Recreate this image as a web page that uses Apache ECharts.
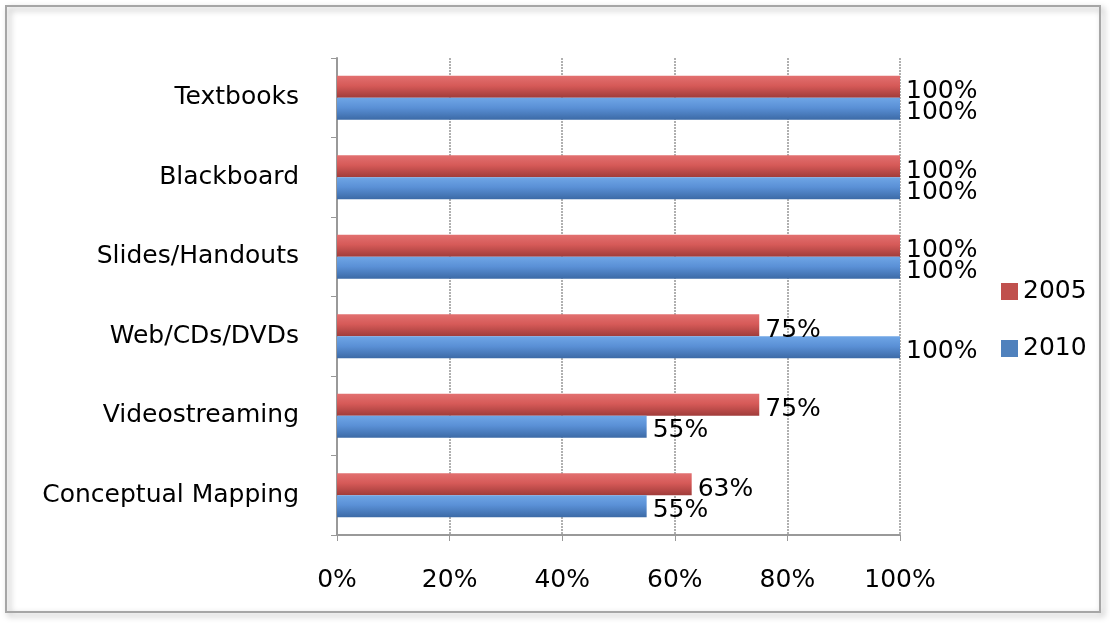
<!DOCTYPE html>
<html><head><meta charset="utf-8">
<script src="https://cdn.jsdelivr.net/npm/echarts@6/dist/echarts.min.js"></script>
<style>html,body{margin:0;padding:0;background:#fff;}#c{width:1110px;height:624px;}</style>
</head><body><div id="c"></div>
<script>
const categories = ['Textbooks','Blackboard','Slides/Handouts','Web/CDs/DVDs','Videostreaming','Conceptual Mapping'];
const values2005 = [100,100,100,75,75,63];
const values2010 = [100,100,100,100,55,55];
const seriesNames = ['2005','2010'];
const xTicks = {min:0, max:100, interval:20};

const font = 'DejaVu Sans';
const fs = 25;
function grad(light, mid, dark){
  return new echarts.graphic.LinearGradient(0,0,0,1,[
    {offset:0,color:light},{offset:0.45,color:mid},{offset:1,color:dark}]);
}
const chart = echarts.init(document.getElementById('c'));
chart.setOption({
  backgroundColor:'#fff',
  graphic:[{type:'rect',shape:{x:6,y:6,width:1094,height:606},style:{fill:'none',stroke:'#a6a6a6',lineWidth:2,shadowColor:'rgba(0,0,0,0.35)',shadowBlur:6,shadowOffsetX:3,shadowOffsetY:3},z:-1}],
  grid:{left:337,right:210,top:58,bottom:89,containLabel:false},
  legend:{orient:'vertical',left:996,top:274,itemGap:32,itemWidth:17,itemHeight:17,icon:'rect',
    textStyle:{fontFamily:font,fontSize:fs,color:'#000'},
    data:[{name:'2005',itemStyle:{color:'#C0504D'}},{name:'2010',itemStyle:{color:'#4F81BD'}}]},
  xAxis:{type:'value',min:xTicks.min,max:xTicks.max,interval:xTicks.interval,
    axisLabel:{formatter:'{value}%',fontFamily:font,fontSize:fs,color:'#000',margin:33},
    axisLine:{show:true,lineStyle:{color:'#999',width:2}},
    axisTick:{show:true,length:6,lineStyle:{color:'#999'}},
    splitLine:{show:true,lineStyle:{color:'#b0b0b0',width:2,type:[2,1]}}},
  yAxis:{type:'category',data:categories,inverse:true,
    axisLabel:{fontFamily:font,fontSize:fs,color:'#000',margin:38},
    axisLine:{show:true,lineStyle:{color:'#999',width:2}},
    axisTick:{show:true,length:6,lineStyle:{color:'#999'}}},
  series:[
    {name:seriesNames[0],type:'bar',data:values2005,barWidth:22,barGap:'0%',
     itemStyle:{color:grad('#e27070','#d65a58','#a03c3a')},
     label:{show:true,position:'right',formatter:'{c}%',fontFamily:font,fontSize:fs,color:'#000',offset:[0,5],distance:6}},
    {name:seriesNames[1],type:'bar',data:values2010,barWidth:22,barGap:'0%',
     itemStyle:{color:grad('#6fa6e6','#5a90d6','#3c6aa6')},
     label:{show:true,position:'right',formatter:'{c}%',fontFamily:font,fontSize:fs,color:'#000',offset:[0,4],distance:6}}
  ]
});
</script></body></html>
